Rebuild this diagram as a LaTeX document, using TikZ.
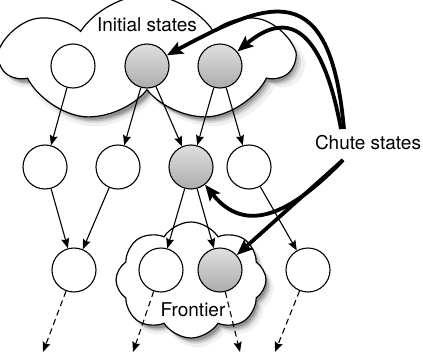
\documentclass[tikz,border=0pt]{standalone}
\usepackage{fontspec}
\setmainfont{TeX Gyre Heros}
\usetikzlibrary{arrows.meta,shapes.symbols,shadows}

\begin{document}
\begin{tikzpicture}
  [
    x=1pt, y=-1pt,
    font=\fontsize{19}{22}\selectfont,
    st/.style={circle, draw, line width=1.1pt, minimum size=44pt, inner sep=0pt, fill=white},
    chute/.style={st, top color=gray!25, bottom color=gray!65},
    soft/.style={
      general shadow={shadow xshift=6pt, shadow yshift=-8pt, fill=black, opacity=.06, shadow scale=1.02},
      general shadow={shadow xshift=5pt, shadow yshift=-6pt, fill=black, opacity=.1},
      general shadow={shadow xshift=4pt, shadow yshift=-5pt, fill=black, opacity=.15, shadow scale=.99},
      general shadow={shadow xshift=3pt, shadow yshift=-4pt, fill=black, opacity=.2, shadow scale=.98}},
    blob/.style={cloud, draw, line width=1.2pt, fill=white, cloud puffs=#1, cloud puff arc=115,
      cloud ignores aspect, soft},
    edg/.style={line width=1.1pt, -{Stealth[length=10pt,width=8pt,inset=1.5pt]}},
    cnt/.style={edg, dash pattern=on 6pt off 4pt},
    big/.style={line width=3.8pt, -{Stealth[length=16pt,width=13pt,inset=3pt]}}
  ]
  \useasboundingbox (0,0) rectangle (423,356);
  % clouds
  \node [blob=7, minimum width=290pt, minimum height=128pt]  (init)  at (147,59)  {};
  \node [blob=8, minimum width=150pt, minimum height=116pt] (front) at (191,280) {};
  \node (initlbl)  at (147,25)  {Initial states};
  \node (frontlbl) at (193,310) {Frontier};
  \node (chutelbl) at (368,143) {Chute states};
  % states
  \node [st]    (t1) at (73,66)   {};
  \node [chute] (t2) at (147,66)  {};
  \node [chute] (t3) at (220,66)  {};
  \node [st]    (m1) at (45,167)  {};
  \node [st]    (m2) at (118,167) {};
  \node [chute] (m3) at (191,167) {};
  \node [st]    (m4) at (249,167) {};
  \node [st]    (b1) at (74,270)  {};
  \node [st]    (b2) at (161,270) {};
  \node [chute] (b3) at (220,270) {};
  \node [st]    (b4) at (308,270) {};
  \coordinate (e1) at (43,352);
  \coordinate (e2) at (133,352);
  \coordinate (e3) at (240,352);
  \coordinate (e4) at (275,352);
  \foreach \a/\b in {t1/m1, t2/m2, t2/m3, t3/m3, t3/m4, m1/b1, m2/b1, m3/b2, m3/b3, m4/b4}
    \draw [edg] (\a) -- (\b);
  \foreach \a/\b in {b1/e1, b2/e2, b3/e3, b4/e4}
    \draw [cnt] (\a) -- (\b);
  % pointers from the label
  \coordinate (s1) at (344,129);
  \coordinate (s2) at (341,129);
  \coordinate (s3) at (343,160);
  \draw [big] (s1) .. controls (330,-25) and (270,0) .. (t2);
  \draw [big] (s2) .. controls (318,5) and (275,20) .. (t3);
  \draw [big] (s3) -- (b3);
  \draw [big] (s3) .. controls (290,215) and (245,235) .. (m3);
\end{tikzpicture}
\end{document}
